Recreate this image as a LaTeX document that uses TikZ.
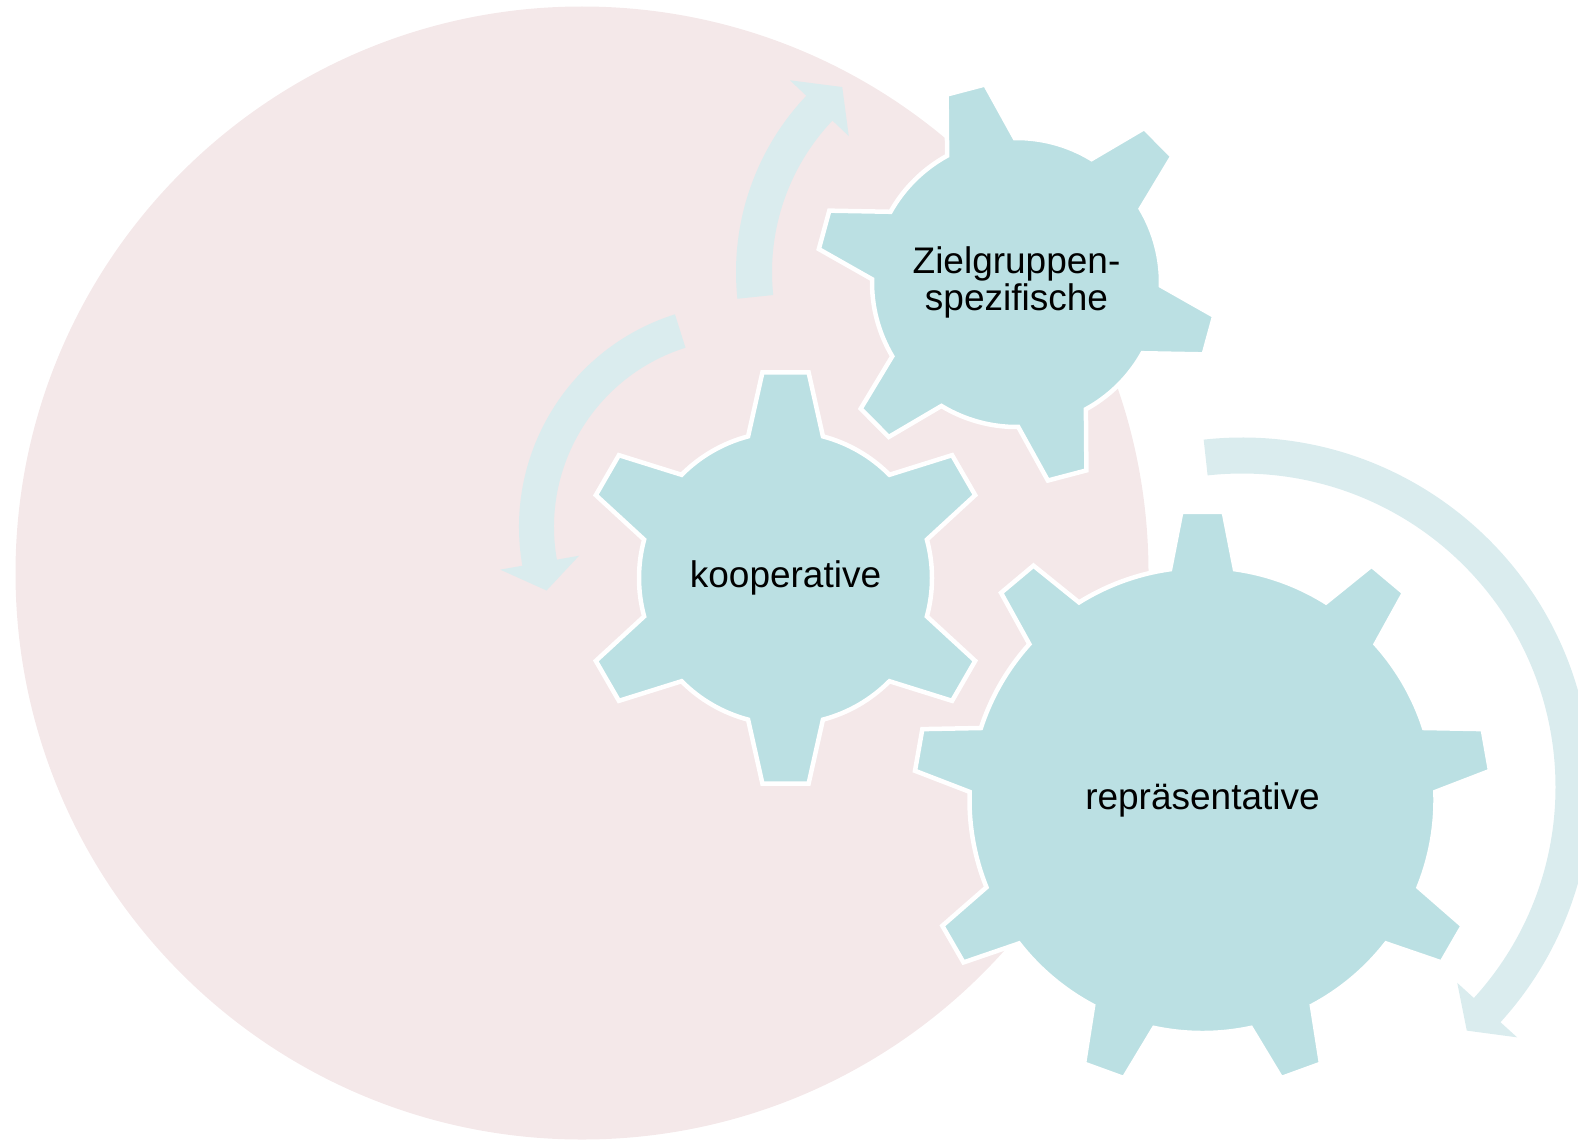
\documentclass[tikz,border=0pt]{standalone}
\usepackage{fontspec}
\setmainfont{Liberation Sans}
\usepackage{tikz}
\usetikzlibrary{positioning}

\definecolor{ringpink}{RGB}{244,232,233}
\definecolor{gearblue}{RGB}{187,224,227}
\definecolor{arrowblue}{RGB}{218,236,238}

% center, teeth, first tooth, inner r, outer r, root half angle, tip half angle
\newcommand{\cogwheel}[7]{%
  \begin{scope}[shift={#1}]
    \pgfmathsetmacro{\cogstep}{360/#2}
    \path[gear body] ({#3-#6}:#4)
      \foreach \k [evaluate=\k as \ang using #3+(\k-1)*\cogstep] in {1,...,#2} {
        -- ({\ang-#6}:#4) -- ({\ang-#7}:#5) -- ({\ang+#7}:#5) -- ({\ang+#6}:#4)
        arc[start angle=\ang+#6, end angle=\ang+\cogstep-#6, radius=#4]
      } -- cycle;
  \end{scope}}

% center, inner r, outer r, start, end, barb, tip angle
\newcommand{\turnarrow}[7]{%
  \begin{scope}[shift={#1}]
    \pgfmathsetmacro{\midr}{(#2+#3)/2}
    \fill[turn arrow] ({#4}:#2) -- ({#4}:#3)
      arc[start angle=#4, end angle=#5, radius=#3]
      -- ({#5}:{#3+#6}) -- ({#7}:\midr) -- ({#5}:{#2-#6}) -- ({#5}:#2)
      arc[start angle=#5, end angle=#4, radius=#2] -- cycle;
  \end{scope}}

\begin{document}
\begin{tikzpicture}[x=1pt,y=-1pt,
    gear body/.style={fill=gearblue,draw=white,line width=4.5pt},
    turn arrow/.style={fill=arrowblue},
    gear label/.style={font=\fontsize{37}{37}\selectfont,align=center,inner sep=0pt}]
  \clip (0,0) rectangle (1578,1140);
  \fill[ringpink] (582,573) circle[radius=566.5];

  \coordinate (koop c) at (785.5,578);
  \coordinate (ziel c) at (1016.5,282.5);
  \coordinate (repr c) at (1202.5,800);

  % arrows
  \turnarrow{(992,272)}{220}{256}{174}{223.5}{22.5}{231}
  \turnarrow{(742,527)}{188}{223}{252.5}{170}{22.5}{162}
  \turnarrow{(1242,787)}{313.5}{349.5}{-96.3}{42.3}{22.5}{47.3}

  % gears
  \cogwheel{(koop c)}{6}{-90}{146.5}{207}{14.8}{6.4}
  \cogwheel{(ziel c)}{6}{-104.7}{144.5}{200.5}{14}{5.7}
  \cogwheel{(repr c)}{9}{-90}{233}{289}{8}{4.2}

  \node[gear label] (koop) at (koop c) {kooperative};
  \node[gear label] (ziel) at (ziel c) {Zielgruppen-\\spezifische};
  \node[gear label] (repr) at (repr c) {repräsentative};
\end{tikzpicture}
\end{document}
